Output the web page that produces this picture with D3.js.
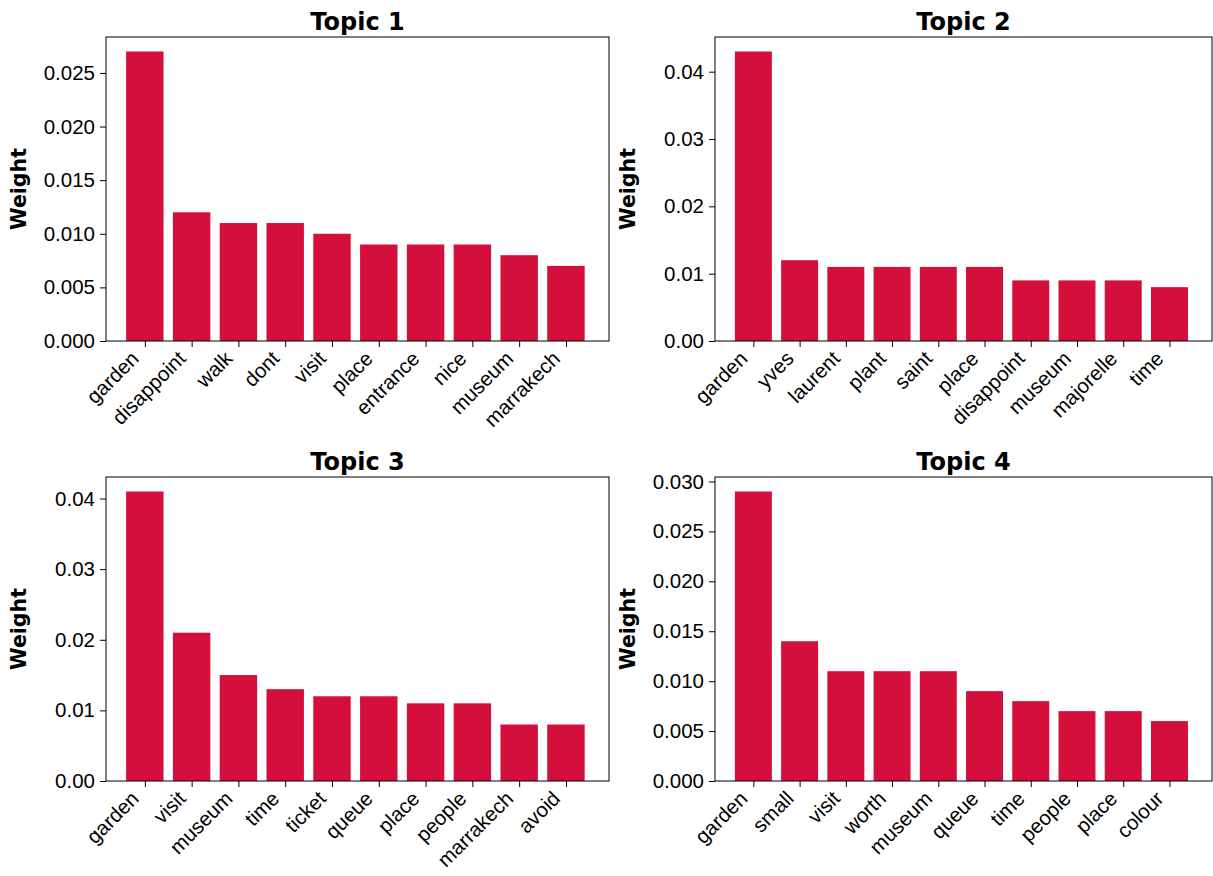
<!DOCTYPE html>
<html><head><meta charset="utf-8">
<script src="https://cdn.jsdelivr.net/npm/d3@7"></script>
<style>body{margin:0;background:#fff}svg{font-family:"DejaVu Sans",sans-serif}</style>
</head><body><svg id="c" width="1213" height="876"></svg>
<script>
var titles = ["Topic 1", "Topic 2", "Topic 3", "Topic 4"];
var words1 = ["garden","disappoint","walk","dont","visit","place","entrance","nice","museum","marrakech"];
var weights1 = [0.027,0.012,0.011,0.011,0.010,0.009,0.009,0.009,0.008,0.007];
var words2 = ["garden","yves","laurent","plant","saint","place","disappoint","museum","majorelle","time"];
var weights2 = [0.043,0.012,0.011,0.011,0.011,0.011,0.009,0.009,0.009,0.008];
var words3 = ["garden","visit","museum","time","ticket","queue","place","people","marrakech","avoid"];
var weights3 = [0.041,0.021,0.015,0.013,0.012,0.012,0.011,0.011,0.008,0.008];
var words4 = ["garden","small","visit","worth","museum","queue","time","people","place","colour"];
var weights4 = [0.029,0.014,0.011,0.011,0.011,0.009,0.008,0.007,0.007,0.006];
var tickStep = [0.005, 0.01, 0.01, 0.005];
var tickDigits = [3, 2, 2, 3];

var panels = [
  {x: 106, y: 37, w: 503, h: 304, words: words1, vals: weights1},
  {x: 715, y: 37, w: 497, h: 304, words: words2, vals: weights2},
  {x: 106, y: 477, w: 503, h: 304, words: words3, vals: weights3},
  {x: 715, y: 477, w: 497, h: 304, words: words4, vals: weights4}
];
var svg = d3.select("#c");
panels.forEach(function (p, i) {
  var n = p.words.length;
  var x = d3.scaleLinear().domain([-0.83, n - 1 + 0.92]).range([0, p.w]);
  var ymax = d3.max(p.vals) * 1.05;
  var y = d3.scaleLinear().domain([0, ymax]).range([p.h, 0]);
  var g = svg.append("g").attr("transform", "translate(" + p.x + "," + p.y + ")");
  g.selectAll("rect").data(p.vals).enter().append("rect")
    .attr("x", function (d, j) { return x(j - 0.4); })
    .attr("width", x(0.8) - x(0))
    .attr("y", function (d) { return y(d); })
    .attr("height", function (d) { return p.h - y(d); })
    .attr("fill", "#d50f3c");
  var ticks = d3.range(0, ymax + 1e-9, tickStep[i]);
  var ya = g.append("g").call(d3.axisLeft(y).tickValues(ticks).tickSizeOuter(0)
    .tickFormat(function (d) { return d.toFixed(tickDigits[i]); }));
  ya.selectAll("text").attr("font-size", 20.5).attr("fill", "#000").attr("dx", -2);
  ya.selectAll("line").attr("x2", -6).attr("stroke", "#000");
  ya.select(".domain").remove();
  var xa = g.append("g").attr("transform", "translate(0," + p.h + ")")
    .call(d3.axisBottom(x).tickValues(d3.range(n)).tickSizeOuter(0)
      .tickFormat(function (d) { return p.words[d]; }));
  xa.select(".domain").remove();
  xa.selectAll("line").attr("y2", 6).attr("stroke", "#000");
  xa.selectAll("text").attr("font-size", 20.5).attr("fill", "#000")
    .attr("text-anchor", "end").attr("dy", null).attr("y", 0)
    .attr("transform", "translate(-9,15) rotate(-45)").attr("dominant-baseline", "middle");
  g.append("rect").attr("width", p.w).attr("height", p.h)
    .attr("fill", "none").attr("stroke", "#000").attr("stroke-width", 1);
  g.append("text").attr("x", p.w / 2).attr("y", -7).attr("text-anchor", "middle")
    .attr("font-size", 24).attr("font-weight", "bold").text(titles[i]);
  g.append("text").attr("transform", "translate(" + (-80) + "," + (p.h / 2) + ") rotate(-90)")
    .attr("text-anchor", "middle").attr("font-size", 20.5).attr("font-weight", "bold").text("Weight");
});
</script></body></html>
